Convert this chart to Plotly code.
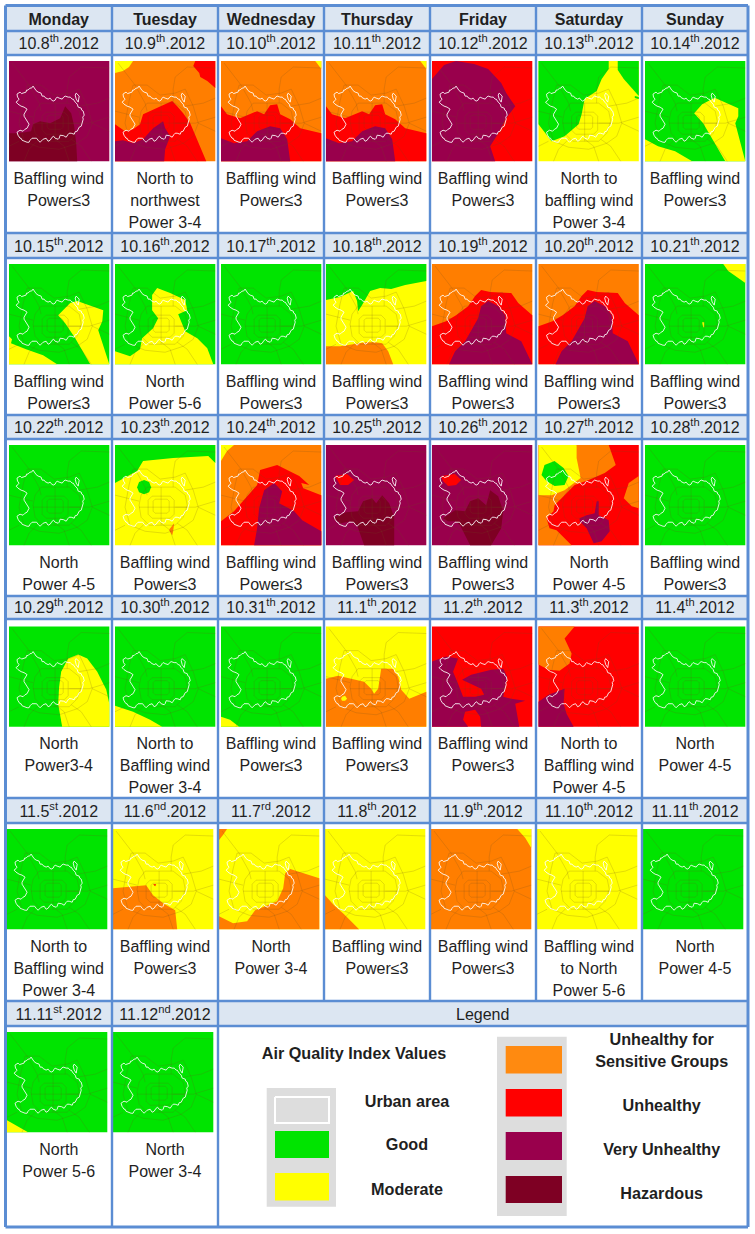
import plotly.graph_objects as go

FONT = "Liberation Sans"
WEEKDAYS = ["Monday", "Tuesday", "Wednesday", "Thursday", "Friday", "Saturday", "Sunday"]
DATES = [
    "10.8<sup>th</sup>.2012", "10.9<sup>th</sup>.2012", "10.10<sup>th</sup>.2012", "10.11<sup>th</sup>.2012", "10.12<sup>th</sup>.2012", "10.13<sup>th</sup>.2012", "10.14<sup>th</sup>.2012",
    "10.15<sup>th</sup>.2012", "10.16<sup>th</sup>.2012", "10.17<sup>th</sup>.2012", "10.18<sup>th</sup>.2012", "10.19<sup>th</sup>.2012", "10.20<sup>th</sup>.2012", "10.21<sup>th</sup>.2012",
    "10.22<sup>th</sup>.2012", "10.23<sup>th</sup>.2012", "10.24<sup>th</sup>.2012", "10.25<sup>th</sup>.2012", "10.26<sup>th</sup>.2012", "10.27<sup>th</sup>.2012", "10.28<sup>th</sup>.2012",
    "10.29<sup>th</sup>.2012", "10.30<sup>th</sup>.2012", "10.31<sup>th</sup>.2012", "11.1<sup>th</sup>.2012", "11.2<sup>th</sup>.2012", "11.3<sup>th</sup>.2012", "11.4<sup>th</sup>.2012",
    "11.5<sup>st</sup>.2012", "11.6<sup>nd</sup>.2012", "11.7<sup>rd</sup>.2012", "11.8<sup>th</sup>.2012", "11.9<sup>th</sup>.2012", "11.10<sup>th</sup>.2012", "11.11<sup>th</sup>.2012",
    "11.11<sup>st</sup>.2012", "11.12<sup>nd</sup>.2012",
]
B3 = ["Baffling wind", "Power≤3"]
WINDS = [
    B3, ["North to", "northwest", "Power 3-4"], B3, B3, B3, ["North to", "baffling wind", "Power 3-4"], B3,
    B3, ["North", "Power 5-6"], B3, B3, B3, B3, B3,
    ["North", "Power 4-5"], B3, B3, B3, B3, ["North", "Power 4-5"], B3,
    ["North", "Power3-4"], ["North to", "Baffling wind", "Power 3-4"], B3, B3, B3, ["North to", "Baffling wind", "Power 4-5"], ["North", "Power 4-5"],
    ["North to", "Baffling wind", "Power 3-4"], B3, ["North", "Power 3-4"], B3, B3, ["Baffling wind", "to North", "Power 5-6"], ["North", "Power 4-5"],
    ["North", "Power 5-6"], ["North", "Power 3-4"],
]

COLORS = {"good": "#00E400", "moderate": "#FFFF00", "usg": "#FF7E00", "unhealthy": "#FF0000", "very": "#99004C", "hazard": "#7E0023"}

# Pollution zones for each day (map-local units 0-100, y down)
Z1008 = ("very", [("hazard", [(0,72),(10,72),(22,70),(24,63),(31,60),(41,62),(51,57),(56,45),(62,52),(65,65),(67,82),(68,100),(0,100)])])
Z1009 = ("usg", [("moderate", [(0,0),(18,0),(14,6),(8,10),(0,12)]),
                 ("unhealthy", [(80,0),(100,0),(100,27),(92,20),(85,16),(84,12),(78,5)]),
                 ("unhealthy", [(0,63),(10,70),(18,68),(25,63),(28,53),(42,47),(57,40),(62,45),(68,52),(75,62),(82,78),(91,100),(0,100)]),
                 ("very", [(0,80),(8,79),(18,82),(28,78),(38,67),(48,60),(50,67),(55,75),(50,88),(49,100),(0,100)])])
Z1010 = ("usg", [("moderate", [(94,0),(100,0),(100,8)]),
                 ("unhealthy", [(0,45),(6,53),(19,57),(36,50),(43,53),(49,44),(56,43),(59,53),(69,58),(79,67),(100,72),(100,100),(0,100)]),
                 ("very", [(0,77),(13,82),(26,80),(36,70),(49,65),(59,67),(66,78),(69,100),(0,100)])])
Z1011 = Z1010
Z1012 = ("unhealthy", [("very", [(0,18),(12,4),(24,0),(42,3),(56,8),(69,22),(74,32),(83,45),(74,57),(66,72),(58,85),(63,100),(0,100)])])
Z1013 = ("moderate", [("good", [(0,0),(70,0),(70,8),(63,18),(58,30),(46,38),(43,53),(40,63),(26,75),(13,80),(0,63)]),
                      ("good", [(79,0),(100,0),(100,35),(93,27),(85,18),(79,9)]),
                      ("good", [(96,35),(100,36),(100,38),(96,37)])])
Z1014 = ("good", [("moderate", [(49,52),(57,43),(67,38),(70,37),(93,47),(93,55),(90,62),(100,100),(80,100),(67,78),(58,62)]),
                  ("moderate", [(0,78),(13,85),(30,90),(47,100),(0,100)])])
Z1015 = ("good", [("moderate", [(49,51),(61,39),(68,37),(94,46),(93,57),(89,66),(100,100),(81,100),(66,74),(56,59)]),
                  ("moderate", [(0,72),(3,75),(2,79),(17,85),(34,91),(48,100),(0,100)])])
Z1016 = ("good", [("moderate", [(42,24),(55,29),(70,36),(72,46),(63,50),(70,67),(82,74),(92,84),(98,100),(0,100),(0,87),(15,92),(25,85),(27,74),(38,64),(43,54),(37,46),(37,31)])])
Z1017 = ("good", [])
Z1018 = ("moderate", [("good", [(0,36),(14,33),(27,27),(31,37),(32,47),(36,41),(44,27),(54,24),(65,25),(79,21),(100,17),(100,0),(0,0)]),
                      ("usg", [(0,82),(14,82),(27,80),(40,78),(49,78),(56,79),(62,87),(67,100),(0,100)])])
Z1019 = ("usg", [("unhealthy", [(0,62),(14,57),(24,51),(36,42),(43,32),(49,26),(58,28),(79,29),(86,39),(100,51),(100,100),(0,100)]),
                 ("very", [(17,100),(23,87),(33,77),(39,67),(46,54),(49,42),(56,37),(66,42),(73,51),(74,69),(89,77),(100,100)])])
Z1020 = Z1019
Z1021 = ("good", [("moderate", [(78,0),(100,0),(100,19),(90,12),(83,7)]),
                  ("moderate", [(57,58),(59,58),(59,63),(58,63)])])
Z1022 = ("good", [])
Z1023 = ("moderate", [("good", [(0,0),(100,0),(100,18),(93,11),(58,13),(28,16),(22,26),(10,33),(0,38)]),
                      ("good", [(24,37),(29,35),(34,37),(36,42),(34,47),(29,49),(24,47),(22,42)]),
                      ("usg", [(55,83),(59,78),(58,86),(57,90),(54,85)])])
Z1024 = ("usg", [("moderate", [(0,0),(13,0),(6,6),(0,16)]),
                 ("unhealthy", [(0,76),(13,66),(36,40),(39,25),(56,20),(66,25),(78,31),(88,40),(80,38),(82,43),(100,50),(100,100),(0,100)]),
                 ("very", [(33,100),(36,83),(38,63),(43,45),(53,38),(61,46),(58,58),(73,66),(81,75),(100,86),(100,100)])])
Z1025 = ("very", [("unhealthy", [(9,31),(21,29),(28,35),(22,40),(14,40)]),
                  ("hazard", [(7,73),(20,67),(32,66),(37,56),(46,53),(50,58),(56,50),(63,58),(68,72),(68,100),(38,100),(31,80),(24,76),(15,78)])])
Z1026 = ("very", [("unhealthy", [(9,31),(23,29),(29,35),(24,40),(16,41),(11,36)]),
                  ("hazard", [(11,73),(23,65),(33,66),(38,56),(46,53),(54,60),(58,45),(66,51),(71,66),(69,83),(59,100),(38,100),(28,80),(23,76),(16,76)])])
Z1027 = ("unhealthy", [("usg", [(38,0),(70,0),(77,20),(66,28),(50,35),(36,40),(23,53),(16,60),(15,66),(8,73),(11,83),(18,85),(33,100),(0,100),(0,50)]),
                       ("moderate", [(0,0),(38,0),(38,13),(42,33),(26,45),(13,50),(0,50)]),
                       ("good", [(6,20),(16,16),(25,23),(30,31),(26,40),(16,41),(8,36),(3,30)]),
                       ("usg", [(85,53),(90,38),(100,31),(100,63),(93,61)]),
                       ("very", [(41,73),(48,70),(56,68),(58,56),(60,56),(60,70),(70,75),(71,86),(63,96),(55,98),(48,83),(41,76)])])
Z1028 = ("good", [])
Z1029 = ("good", [("moderate", [(52,45),(59,32),(69,28),(78,32),(88,45),(97,63),(100,77),(100,100),(53,100),(49,77),(50,60)])])
Z1030 = ("good", [("moderate", [(0,79),(18,85),(35,93),(47,100),(0,100)])])
Z1031 = ("good", [("moderate", [(0,90),(9,93),(18,100),(0,100)])])
Z1101 = ("moderate", [("usg", [(0,52),(12,49),(25,52),(38,55),(45,62),(48,67),(52,62),(55,42),(67,42),(72,50),(75,63),(83,72),(100,65),(100,100),(0,100)]),
                      ("moderate", [(16,70),(19,69),(21,72),(19,74),(16,74),(15,72)])])
Z1102 = ("unhealthy", [("very", [(0,35),(14,30),(26,32),(21,45),(26,57),(31,70),(43,70),(52,68),(49,62),(30,53),(39,48),(59,43),(71,42),(75,50),(71,70),(79,72),(93,74),(83,77),(87,100),(49,100),(48,90),(43,83),(33,85),(31,93),(36,100),(0,100)])])
Z1103 = ("unhealthy", [("usg", [(0,0),(36,0),(26,12),(33,27),(31,37),(21,44),(10,43),(0,38)]),
                       ("very", [(0,75),(10,68),(26,62),(25,77),(28,87),(35,100),(0,100)])])
Z1104 = ("good", [])
Z1105 = ("good", [])
Z1106 = ("moderate", [("usg", [(0,59),(13,58),(33,56),(40,66),(50,74),(62,81),(64,100),(0,100)]),
                      ("unhealthy", [(40,55),(43,55),(42,57)])])
Z1107 = ("moderate", [("usg", [(0,0),(8,0),(4,6),(0,11)]),
                      ("usg", [(0,87),(14,94),(28,92),(36,81),(58,72),(64,59),(66,44),(71,40),(100,49),(100,100),(0,100)])])
Z1108 = ("moderate", [("usg", [(0,66),(9,76),(19,85),(34,100),(0,100)])])
Z1109 = ("usg", [("moderate", [(86,0),(100,0),(100,19),(94,9)])])
Z1110 = ("moderate", [])
Z1111 = ("good", [])
Z1111B = ("good", [("moderate", [(0,88),(9,93),(21,100),(0,100)])])
Z1112 = ("good", [])

MAPS = [Z1008, Z1009, Z1010, Z1011, Z1012, Z1013, Z1014,
        Z1015, Z1016, Z1017, Z1018, Z1019, Z1020, Z1021,
        Z1022, Z1023, Z1024, Z1025, Z1026, Z1027, Z1028,
        Z1029, Z1030, Z1031, Z1101, Z1102, Z1103, Z1104,
        Z1105, Z1106, Z1107, Z1108, Z1109, Z1110, Z1111,
        Z1111B, Z1112]

URBAN_OUTLINE = [(8,33),(9.5,32),(11,31),(12.5,32.5),(14,32),(17,31),(17.5,29),(19,29),(21,27),(22.5,27),(24,25),(25,26.5),(26,27),(27,29.5),(29,31),(31,31.5),(32,32),(33,35),(35,35),(36,36.5),(39,38),(41,37),(42,38.5),(44,40),(46,39),(47,37),(48,36),(50,37),(53,38),(54.5,36),(56,35),(59,36),(61,36),(63,38),(64,38),(66,41),(68,43),(69,46),(72,47),(72.5,49),(74,50),(75,54),(73.5,56),(74,58),(73,62),(72,65),(70,66),(69,68),(68,70),(66,70.5),(65,73),(62,72),(60,72),(59,73),(57,76),(54.5,74.5),(53,74),(51,74),(50,77),(49,78),(46,77),(44.5,75),(43,76),(41,79),(39,80),(38,77.5),(37,77),(34,78),(32.5,80),(31,81),(29,79),(27.5,77),(26,77),(23,77),(21,79),(20,81),(18,81),(15,80),(13,79),(12,77),(11,77),(9,74),(8,71),(11,69),(14,70),(16,68),(18,67),(20,63),(18,60),(17,59),(15,55),(15,53),(18,48),(15,46),(12,45),(9,43),(7,41),(9,39.5),(10,38),(8.5,36),(8,33)]
URBAN_LAKE = [(67,32),(70,35),(69,41),(67,38),(66,34),(67,32)]
ROADS = [
    [(3,2),(12,14),(20,24),(30,42),(32,50)],
    [(58,42),(58,28),(60,16),(72,6),(100,7)],
    [(60,62),(80,62),(100,56)],
    [(70,45),(88,42),(100,37)],
    [(62,78),(72,85),(82,100)],
    [(46,78),(55,85),(60,100)],
    [(30,78),(20,88),(15,100)],
    [(10,80),(0,85)],
    [(83,62),(100,70)],
    [(18,24),(32,24),(45,34),(60,32),(70,28),(78,45),(83,62),(78,75),(68,82),(50,88),(30,86),(15,80),(10,62),(14,40),(18,24)],
    [(40,54),(52,54),(54,56),(54,66),(52,68),(40,68),(38,66),(38,56),(40,54)],
    [(37,51),(55,51),(59,55),(59,69),(55,73),(37,73),(33,69),(33,55),(37,51)],
    [(32,42),(60,42),(70,50),(72,60),(68,72),(60,80),(34,80),(26,72),(24,60),(26,50),(32,42)],
    [(24,62),(72,62)],
    [(46,42),(46,80)],
    [(0,50),(24,56)],
]

# Table geometry
COL_LINES = [5.5, 112, 218, 324, 430, 536, 642, 748]
ROW_LINES = [5.5, 31, 55, 233, 258, 415, 439, 596, 619, 798, 823, 1001, 1026, 1227]
HEADER_BANDS = [(5.5, 55), (233, 258), (415, 439), (596, 619), (798, 823), (1001, 1026)]
MAP_Y = [61, 264, 445, 626.5, 829, 1032]
MAP_X_TOP = [9, 115, 221, 326, 432, 538.5, 645]
MAP_X_LOW = [7, 113, 219, 325, 431, 537, 643]
MAP_SIZE = 100.3
WEEKDAY_Y = 19.3
DATE_Y = [43, 246, 426.7, 607.3, 810.7, 1014]
WIND_Y = [178, 381, 561.7, 742.7, 945.7, 1148.7]
WIND_STEP = 22
TEXT_NUDGE = 1.8
BORDER = "#5B8DD3"
HEADER_BG = "#DCE6F2"
INK = "#1F1F1F"

# Legend
LEGEND_PANELS = [(266.7, 336, 1088, 1206.7), (497, 566.7, 1036.7, 1216)]
LEGEND_SWATCHES = [
    (275, 329, 1097, 1123, "#DDDDDD"),
    (275, 329, 1131, 1158, COLORS["good"]),
    (275, 329, 1173, 1200.5, COLORS["moderate"]),
    (505.7, 562, 1046, 1073.5, "#FF8A10"),
    (505.7, 562, 1089, 1116.5, COLORS["unhealthy"]),
    (505.7, 562, 1132, 1160, COLORS["very"]),
    (505.7, 562, 1176, 1203, COLORS["hazard"]),
]
LEGEND_TEXT = [("Air Quality Index Values", 354, 1053), ("Urban area", 407, 1100.7), ("Good", 407, 1144), ("Moderate", 407, 1189),
               ("Unhealthy for", 661.7, 1038.7), ("Sensitive Groups", 661.7, 1060.7), ("Unhealthy", 661.7, 1105),
               ("Very Unhealthy", 661.7, 1149), ("Hazardous", 661.7, 1193)]

fig = go.Figure()


def rect(x0, x1, y0, y1, color, line=None):
    fig.add_trace(go.Scatter(x=[x0, x1, x1, x0, x0], y=[y0, y0, y1, y1, y0], mode="lines", fill="toself", fillcolor=color,
                             line=dict(width=2 if line else 0, color=line or color), hoverinfo="skip", showlegend=False))


for y0, y1 in HEADER_BANDS:
    rect(COL_LINES[0], COL_LINES[-1], y0, y1, HEADER_BG)

road_x, road_y, out_x, out_y = [], [], [], []
for i, (base, zones) in enumerate(MAPS):
    row, col = i // 7, i % 7
    ox = (MAP_X_TOP if row < 4 else MAP_X_LOW)[col]
    oy = MAP_Y[row]
    k = MAP_SIZE / 100
    rect(ox, ox + MAP_SIZE, oy, oy + MAP_SIZE, COLORS[base])
    for level, pts in zones:
        fig.add_trace(go.Scatter(x=[ox + p[0] * k for p in pts + pts[:1]], y=[oy + p[1] * k for p in pts + pts[:1]],
                                 mode="lines", fill="toself", fillcolor=COLORS[level], line=dict(width=0, color=COLORS[level]),
                                 hoverinfo="skip", showlegend=False))
    for road in ROADS:
        road_x += [ox + p[0] * k for p in road] + [None]
        road_y += [oy + p[1] * k for p in road] + [None]
    for loop in (URBAN_OUTLINE, URBAN_LAKE):
        out_x += [ox + p[0] * k for p in loop] + [None]
        out_y += [oy + p[1] * k for p in loop] + [None]

fig.add_trace(go.Scatter(x=road_x, y=road_y, mode="lines", line=dict(width=0.7, color="rgba(110,80,30,0.28)"), hoverinfo="skip", showlegend=False))
fig.add_trace(go.Scatter(x=out_x, y=out_y, mode="lines", line=dict(width=0.95, color="rgba(255,255,255,0.9)"), hoverinfo="skip", showlegend=False))

# Legend panels and swatches
for x0, x1, y0, y1 in LEGEND_PANELS:
    rect(x0, x1, y0, y1, "#DDDDDD")
for j, (x0, x1, y0, y1, c) in enumerate(LEGEND_SWATCHES):
    rect(x0, x1, y0, y1, c, line="#FFFFFF" if j == 0 else None)

# Grid lines
for j, x in enumerate(COL_LINES):
    bottom = ROW_LINES[-1] if j in (0, 1, 2, 7) else ROW_LINES[11]
    w = 3 if j in (0, 7) else 2.4
    fig.add_trace(go.Scatter(x=[x, x], y=[ROW_LINES[0], bottom], mode="lines", line=dict(width=w, color=BORDER), hoverinfo="skip", showlegend=False))
for j, y in enumerate(ROW_LINES):
    w = 3 if j in (0, len(ROW_LINES) - 1) else 2.4
    fig.add_trace(go.Scatter(x=[COL_LINES[0], COL_LINES[-1]], y=[y, y], mode="lines", line=dict(width=w, color=BORDER), hoverinfo="skip", showlegend=False))


def centers(col):
    return (COL_LINES[col] + COL_LINES[col + 1]) / 2


def texts(xs, ys, labels, size, bold=False):
    fig.add_trace(go.Scatter(x=xs, y=[v + TEXT_NUDGE for v in ys], text=[f"<b>{t}</b>" if bold else t for t in labels], mode="text", textposition="middle center",
                             textfont=dict(family=FONT, size=size, color=INK), hoverinfo="skip", showlegend=False))


texts([centers(c) for c in range(7)], [WEEKDAY_Y] * 7, WEEKDAYS, 16, bold=True)
dx, dy, wx, wy, wt = [], [], [], [], []
for i, (d, w) in enumerate(zip(DATES, WINDS)):
    row, col = i // 7, i % 7
    dx.append(centers(col))
    dy.append(DATE_Y[row])
    for n, line in enumerate(w):
        wx.append(centers(col))
        wy.append(WIND_Y[row] + n * WIND_STEP)
        wt.append(line)
texts(dx, dy, DATES, 16)
texts(wx, wy, wt, 16)
texts([482.7], [DATE_Y[5]], ["Legend"], 16)
texts([t[1] for t in LEGEND_TEXT], [t[2] for t in LEGEND_TEXT], [t[0] for t in LEGEND_TEXT], 16.2, bold=True)

fig.update_layout(
    width=755, height=1234, margin=dict(l=0, r=0, t=0, b=0), paper_bgcolor="white", plot_bgcolor="white", showlegend=False,
    xaxis=dict(range=[0, 755], visible=False, fixedrange=True),
    yaxis=dict(range=[1234, 0], visible=False, fixedrange=True),
)
fig.write_html("out.html", config=dict(displayModeBar=False), post_script="document.body.style.margin='0';")
